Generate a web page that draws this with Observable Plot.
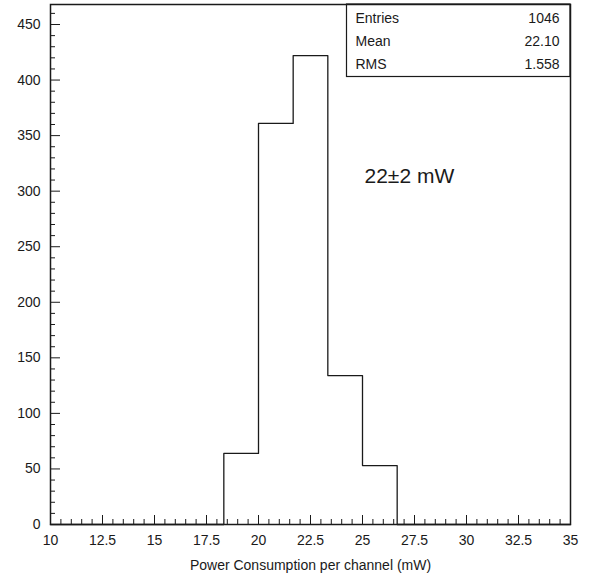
<!DOCTYPE html>
<html>
<head>
<meta charset="utf-8">
<script src="https://cdn.jsdelivr.net/npm/d3@7"></script>
<script src="https://cdn.jsdelivr.net/npm/@observablehq/plot@0.6"></script>
<style>
  html, body { margin: 0; padding: 0; background: #fff; }
  #chart svg { display: block; }
</style>
</head>
<body>
<div id="chart"></div>
<script>
// ---- data ----
const binLow  = [10, 11.667, 13.333, 15, 16.667, 18.333, 20, 21.667, 23.333, 25, 26.667, 28.333, 30, 31.667, 33.333];
const binHigh = [11.667, 13.333, 15, 16.667, 18.333, 20, 21.667, 23.333, 25, 26.667, 28.333, 30, 31.667, 33.333, 35];
const counts  = [0, 0, 0, 0, 0, 64, 361, 422, 134, 53, 0, 0, 0, 0, 0];

const xMajor = [10, 12.5, 15, 17.5, 20, 22.5, 25, 27.5, 30, 32.5, 35];
const xMinor = [10.5, 11, 11.5, 12, 13, 13.5, 14, 14.5, 15.5, 16, 16.5, 17, 18, 18.5, 19, 19.5,
                20.5, 21, 21.5, 22, 23, 23.5, 24, 24.5, 25.5, 26, 26.5, 27, 28, 28.5, 29, 29.5,
                30.5, 31, 31.5, 32, 33, 33.5, 34, 34.5];
const yMajor = [0, 50, 100, 150, 200, 250, 300, 350, 400, 450];
const yMinor = [10, 20, 30, 40, 60, 70, 80, 90, 110, 120, 130, 140, 160, 170, 180, 190,
                210, 220, 230, 240, 260, 270, 280, 290, 310, 320, 330, 340, 360, 370, 380, 390,
                410, 420, 430, 440, 460];

const statLabels = ["Entries", "Mean", "RMS"];
const statValues = ["1046", "22.10", "1.558"];
const xTitle = "Power Consumption per channel (mW)";
const annotation = "22±2 mW";

// step outline points built from the bins
const steps = binLow.map((lo, i) => ({x: lo, y: counts[i]}));
steps.push({x: binHigh[binHigh.length - 1], y: counts[counts.length - 1]});

const font = "Liberation Sans, Arial, Helvetica, sans-serif";
const ink = "#1a1a1a";
const fmt = d => String(d);

const chart = Plot.plot({
  width: 592,
  height: 578,
  marginLeft: 50,
  marginRight: 22,
  marginTop: 4,
  marginBottom: 54,
  style: {fontFamily: font, fontSize: "14px", color: ink, background: "#fff"},
  x: {domain: [10, 35]},
  y: {domain: [0, 468]},
  marks: [
    Plot.line(steps, {x: "x", y: "y", curve: "step-after", stroke: ink, strokeWidth: 1.3}),
    // ticks (inward)
    Plot.axisX({ticks: xMajor, tickSize: -9, tickFormat: () => "", label: null, stroke: ink}),
    Plot.axisX({ticks: xMinor, tickSize: -5, tickFormat: () => "", label: null, stroke: ink}),
    Plot.axisX({ticks: xMajor, tickSize: 0, tickPadding: 11, tickFormat: fmt, label: null, fill: ink, fontSize: 14}),
    Plot.axisY({ticks: yMajor, tickSize: -10, tickFormat: () => "", label: null, stroke: ink}),
    Plot.axisY({ticks: yMinor, tickSize: -5, tickFormat: () => "", label: null, stroke: ink}),
    Plot.axisY({ticks: yMajor, tickSize: 0, tickPadding: 10, tickFormat: fmt, label: null, fill: ink, fontSize: 14}),
    Plot.frame({stroke: ink, strokeWidth: 1.5}),
    // axis title
    Plot.text([xTitle], {frameAnchor: "bottom", dy: 45, fontSize: 14, fill: ink, lineAnchor: "bottom"}),
    // annotation
    Plot.text([annotation], {frameAnchor: "top-left", dx: 314, dy: 164, fontSize: 21, fill: ink,
      textAnchor: "start", lineAnchor: "top"}),
    // stat box text
    Plot.text([statLabels.join("\n")], {frameAnchor: "top-left", dx: 305, dy: 2, fontSize: 14,
      lineHeight: 1.65, fill: ink, textAnchor: "start", lineAnchor: "top"}),
    Plot.text([statValues.join("\n")], {frameAnchor: "top-right", dx: -11, dy: 2, fontSize: 14,
      lineHeight: 1.65, fill: ink, textAnchor: "end", lineAnchor: "top"})
  ]
});

document.getElementById("chart").appendChild(chart);

// stat box border
d3.select(chart).append("rect")
  .attr("x", 346.5).attr("y", 4)
  .attr("width", 570 - 346.5).attr("height", 76.5 - 4)
  .attr("fill", "none").attr("stroke", ink).attr("stroke-width", 1.2);
</script>
</body>
</html>
